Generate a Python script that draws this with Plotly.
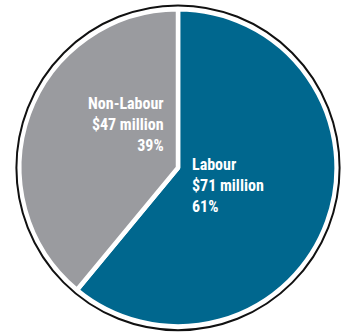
import plotly.graph_objects as go

# Spending split
categories = ["Labour", "Non-Labour"]
amounts_millions = [71, 47]
shares_pct = [61, 39]
colors = ["#00678e", "#9a9b9f"]

W, H = 346, 333
cx, cy = 178.0, 167.8   # pie centre in px (from top-left)
r_pie = 158.6           # pie radius in px (incl. half of the white slice border)
ring_rx, ring_ry = 161.6, 162.4   # outer dark ring radii in px


def domain_for(r):
    return dict(
        x=[(cx - r) / W, (cx + r) / W],
        y=[1 - (cy + r) / H, 1 - (cy - r) / H],
    )


fig = go.Figure()

fig.add_trace(go.Pie(
    labels=categories,
    values=shares_pct,
    sort=False,
    direction="clockwise",
    rotation=0,
    marker=dict(colors=colors, line=dict(color="white", width=4.5)),
    textinfo="none",
    hoverinfo="label+percent",
    showlegend=False,
    domain=domain_for(r_pie),
))

# thin dark ring just outside the pie's white edge
fig.add_shape(
    type="circle", xref="paper", yref="paper", layer="above",
    x0=(cx - ring_rx) / W, x1=(cx + ring_rx) / W,
    y0=1 - (cy + ring_ry) / H, y1=1 - (cy - ring_ry) / H,
    line=dict(color="#111111", width=2),
)

font = dict(family="Roboto Condensed, Roboto, sans-serif", size=16, color="white")

label_pos = {
    "Labour": dict(x=190, y=185, xanchor="left", align="left"),
    "Non-Labour": dict(x=166, y=125, xanchor="right", align="right"),
}
for name, amt, pct in zip(categories, amounts_millions, shares_pct):
    p = label_pos[name]
    fig.add_annotation(
        x=p["x"] / W, y=1 - p["y"] / H, xref="paper", yref="paper",
        xanchor=p["xanchor"], yanchor="middle", align=p["align"],
        text=f"<b>{name}<br>${amt} million<br>{pct}%</b>",
        showarrow=False, font=font,
    )

fig.update_layout(
    width=W, height=H,
    margin=dict(l=0, r=0, t=0, b=0),
    paper_bgcolor="white", plot_bgcolor="white",
)
fig.write_html("out.html")
